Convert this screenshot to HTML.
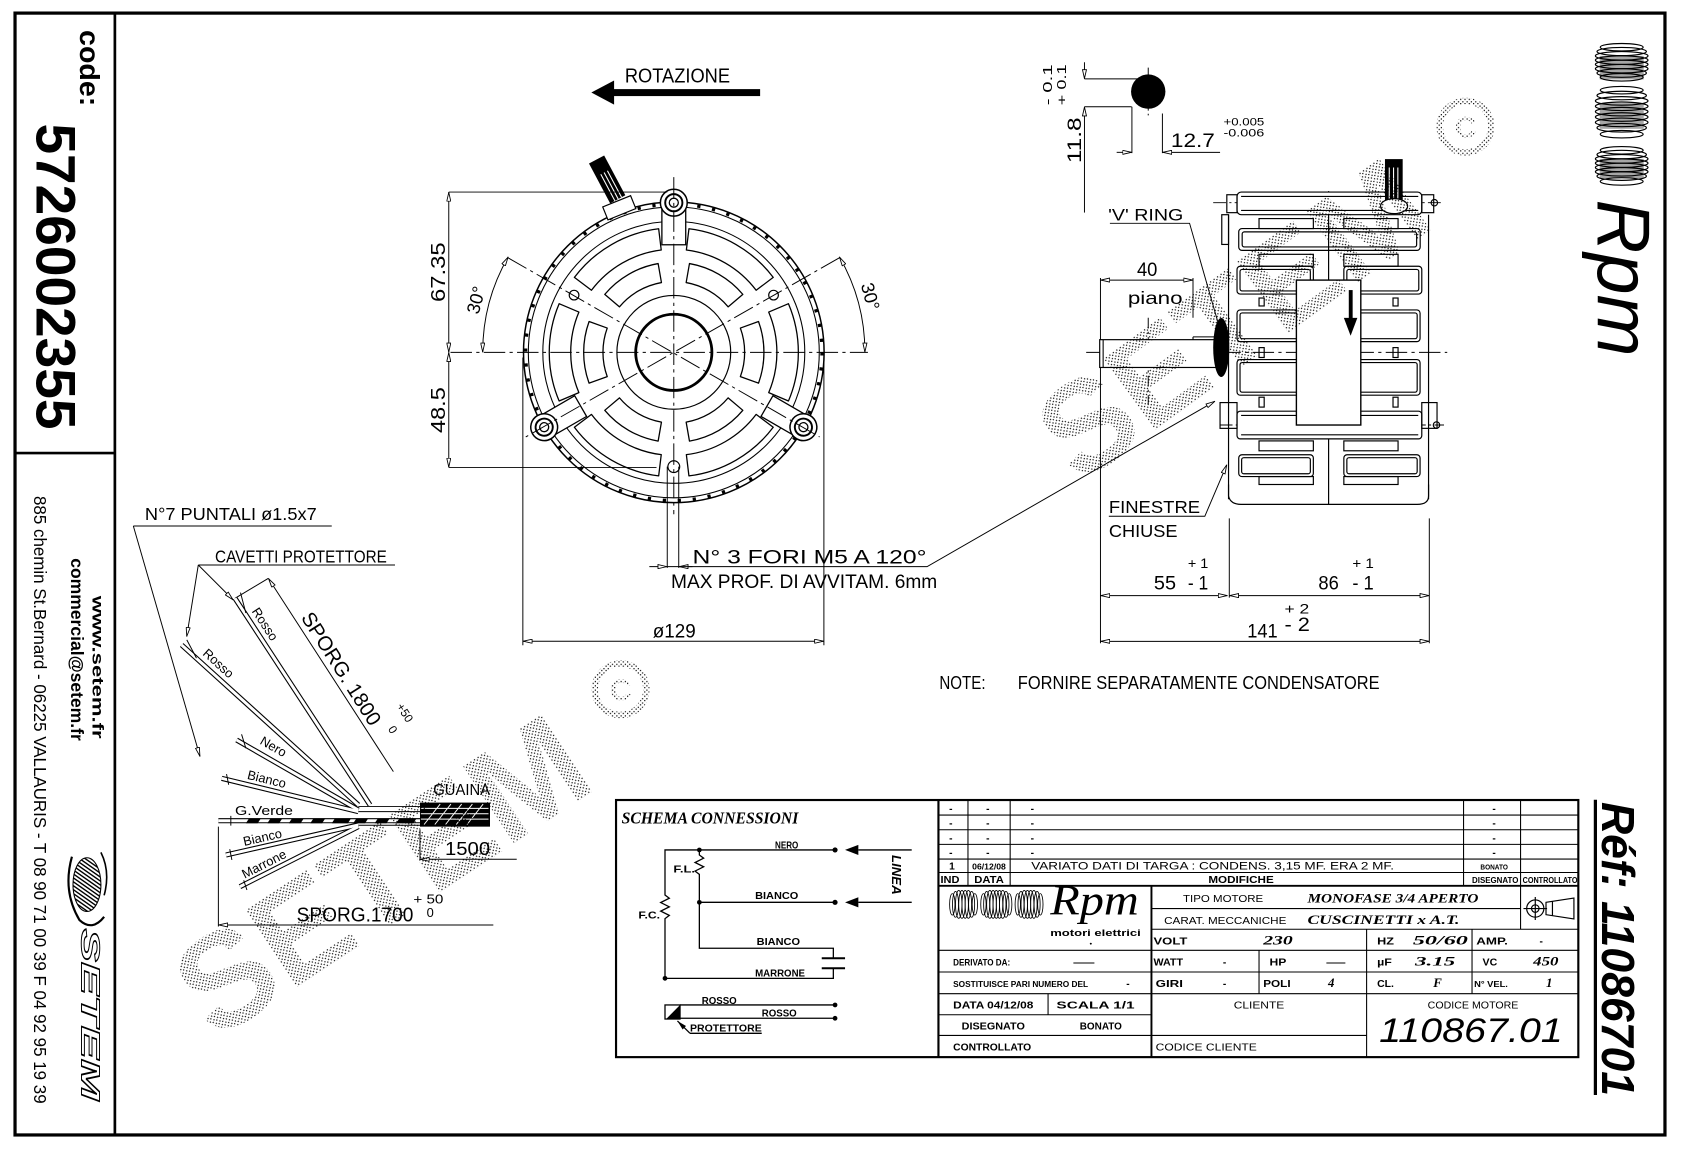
<!DOCTYPE html>
<html><head><meta charset="utf-8"><style>html,body{margin:0;padding:0;background:#fff;width:1683px;height:1153px;overflow:hidden}svg{display:block}</style></head>
<body>
<svg xmlns="http://www.w3.org/2000/svg" width="1683" height="1153" viewBox="0 0 1567.6 1074" preserveAspectRatio="none" font-family="'Liberation Sans', sans-serif">
<defs>
<marker id="o" viewBox="0 0 12 6" refX="12" refY="3" markerWidth="9" markerHeight="4.5" markerUnits="userSpaceOnUse" orient="auto-start-reverse"><path d="M0.5,0.5 L11.5,3 L0.5,5.5 Z" fill="#fff" stroke="#000" stroke-width="1.1"/></marker>
<marker id="f" viewBox="0 0 12 6" refX="12" refY="3" markerWidth="9" markerHeight="5" markerUnits="userSpaceOnUse" orient="auto-start-reverse"><path d="M0,0 L12,3 L0,6 Z" fill="#000"/></marker>
<pattern id="st" width="4" height="4" patternUnits="userSpaceOnUse"><rect width="1.1" height="1.1" fill="#000"/><rect x="2" y="2.3" width="1.1" height="1.1" fill="#000"/></pattern>
<pattern id="ht" width="3" height="3" patternUnits="userSpaceOnUse" patternTransform="rotate(35)"><rect width="3" height="1.3" fill="#000"/></pattern>
</defs>
<rect width="1567.6" height="1074" fill="#fff"/>

<!-- frame -->
<rect x="14" y="12.2" width="1536.8" height="1045" fill="none" stroke="#000" stroke-width="3"/>
<line x1="107" y1="12" x2="107" y2="1057" stroke="#000" stroke-width="2.5"/>
<line x1="14" y1="422" x2="107" y2="422" stroke="#000" stroke-width="2.5"/>

<!-- left strip -->
<text transform="translate(74.5,28) rotate(90)" font-size="26" font-weight="bold" textLength="71" lengthAdjust="spacingAndGlyphs">code:</text>
<text transform="translate(34,115) rotate(90)" font-size="52" font-weight="bold" textLength="285" lengthAdjust="spacingAndGlyphs">5726002355</text>
<text transform="translate(86,555) rotate(90)" font-size="15" font-weight="bold" textLength="133" lengthAdjust="spacingAndGlyphs">www.setem.fr</text>
<text transform="translate(66,520) rotate(90)" font-size="16" font-weight="bold" textLength="170" lengthAdjust="spacingAndGlyphs">commercial@setem.fr</text>
<text transform="translate(31.5,462) rotate(90)" font-size="16" textLength="566" lengthAdjust="spacingAndGlyphs">885 chemin St.Bernard - 06225 VALLAURIS - T 08 90 71 00 39  F 04 92 95 19 39</text>
<ellipse cx="81" cy="824" rx="13" ry="25" fill="url(#ht)" stroke="#000" stroke-width="1"/>
<path d="M67,798 Q58,830 74,857 Q86,868 97,854" fill="none" stroke="#000" stroke-width="2"/>
<path d="M94,794 Q103,812 97,834" fill="none" stroke="#000" stroke-width="1.5"/>
<text transform="translate(76,865) rotate(90)" font-size="24" font-weight="bold" font-style="italic" fill="#fff" stroke="#000" stroke-width="0.9" textLength="160" lengthAdjust="spacingAndGlyphs">SETEM</text>

<!-- right strip -->
<g fill="none" stroke="#000" stroke-width="1.1">
<ellipse cx="1510.5" cy="44" rx="20" ry="3.5"/><ellipse cx="1510.5" cy="48" rx="23" ry="3.8"/><ellipse cx="1510.5" cy="52" rx="24.5" ry="4"/><ellipse cx="1510.5" cy="56" rx="24.5" ry="4"/><ellipse cx="1510.5" cy="60" rx="24.5" ry="4"/><ellipse cx="1510.5" cy="64" rx="24.5" ry="4"/><ellipse cx="1510.5" cy="68" rx="23" ry="4"/><ellipse cx="1510.5" cy="72" rx="20" ry="3.5"/>
<ellipse cx="1510.5" cy="84" rx="20" ry="3.5"/><ellipse cx="1510.5" cy="89" rx="23" ry="4"/><ellipse cx="1510.5" cy="94" rx="24.5" ry="4"/><ellipse cx="1510.5" cy="99" rx="24.5" ry="4"/><ellipse cx="1510.5" cy="104" rx="24.5" ry="4"/><ellipse cx="1510.5" cy="109" rx="24.5" ry="4"/><ellipse cx="1510.5" cy="114" rx="24.5" ry="4"/><ellipse cx="1510.5" cy="119" rx="23" ry="4"/><ellipse cx="1510.5" cy="125" rx="20" ry="3.5"/>
<ellipse cx="1510.5" cy="140" rx="20" ry="3.5"/><ellipse cx="1510.5" cy="144" rx="23" ry="4"/><ellipse cx="1510.5" cy="148" rx="24.5" ry="4"/><ellipse cx="1510.5" cy="152" rx="24.5" ry="4"/><ellipse cx="1510.5" cy="156" rx="24.5" ry="4"/><ellipse cx="1510.5" cy="160" rx="24.5" ry="4"/><ellipse cx="1510.5" cy="164" rx="23" ry="4"/><ellipse cx="1510.5" cy="169" rx="20" ry="3.5"/>
</g>
<rect x="1490" y="52" width="41" height="22" fill="#000" opacity="0.35"/>
<rect x="1490" y="96" width="41" height="24" fill="#000" opacity="0.35"/>
<rect x="1490" y="148" width="41" height="18" fill="#000" opacity="0.35"/>
<text transform="translate(1488,186) rotate(90)" font-size="70" font-style="italic" textLength="146" lengthAdjust="spacingAndGlyphs">Rpm</text>
<line x1="1486" y1="745" x2="1486" y2="1020" stroke="#000" stroke-width="3"/>
<text transform="translate(1492,747) rotate(90)" font-size="43" font-weight="bold" font-style="italic" textLength="274" lengthAdjust="spacingAndGlyphs">Réf: 11086701</text>

<!-- FRONT VIEW -->
<text x="582" y="77" font-size="19" textLength="98" lengthAdjust="spacingAndGlyphs">ROTAZIONE</text>
<rect x="571" y="83" width="137" height="6.5" fill="#000"/>
<polygon points="550.8,86.2 572,75 572,97.5" fill="#000"/>

<g fill="none" stroke="#000">
<circle cx="627.6" cy="328.2" r="140" stroke-width="1.4"/>
<circle cx="627.6" cy="328.2" r="138" stroke-width="3" stroke-dasharray="3 11"/>
<circle cx="627.6" cy="328.2" r="135.5" stroke-width="1"/>
<circle cx="627.6" cy="328.2" r="122" stroke-width="1"/>
<circle cx="627.6" cy="328.2" r="53" stroke-width="1.1"/>
<circle cx="627.6" cy="328.2" r="35.5" stroke-width="2.6"/>
<g stroke-width="1.2" stroke-linejoin="round">
<path d="M720.2,258.4 A116,116 0 0 0 641.7,213.1 L639.3,232.9 A96,96 0 0 1 704.3,270.4 Z"/>
<path d="M613.5,213.1 A116,116 0 0 0 535.0,258.4 L550.9,270.4 A96,96 0 0 1 615.9,232.9 Z"/>
<path d="M520.8,282.9 A116,116 0 0 0 520.8,373.5 L539.2,365.7 A96,96 0 0 1 539.2,290.7 Z"/>
<path d="M535.0,398.0 A116,116 0 0 0 613.5,443.3 L615.9,423.5 A96,96 0 0 1 550.9,386.0 Z"/>
<path d="M641.7,443.3 A116,116 0 0 0 720.2,398.0 L704.3,386.0 A96,96 0 0 1 639.3,423.5 Z"/>
<path d="M734.4,373.5 A116,116 0 0 0 734.4,282.9 L716.0,290.7 A96,96 0 0 1 716.0,365.7 Z"/>
<path d="M691.9,274.2 A84,84 0 0 0 642.2,245.5 L639.1,263.2 A66,66 0 0 1 678.2,285.8 Z"/>
<path d="M613.0,245.5 A84,84 0 0 0 563.3,274.2 L577.0,285.8 A66,66 0 0 1 616.1,263.2 Z"/>
<path d="M548.7,299.5 A84,84 0 0 0 548.7,356.9 L565.6,350.8 A66,66 0 0 1 565.6,305.6 Z"/>
<path d="M563.3,382.2 A84,84 0 0 0 613.0,410.9 L616.1,393.2 A66,66 0 0 1 577.0,370.6 Z"/>
<path d="M642.2,410.9 A84,84 0 0 0 691.9,382.2 L678.2,370.6 A66,66 0 0 1 639.1,393.2 Z"/>
<path d="M706.5,356.9 A84,84 0 0 0 706.5,299.5 L689.6,305.6 A66,66 0 0 1 689.6,350.8 Z"/>
</g>
</g>
<g id="lug">
<rect x="616.5" y="189" width="22.2" height="39" fill="#fff" stroke="#000" stroke-width="1.2"/>
<circle cx="627.6" cy="188.8" r="12.5" fill="#fff" stroke="#000" stroke-width="1.4"/>
<circle cx="627.6" cy="188.8" r="8" fill="none" stroke="#000" stroke-width="1.8"/>
<circle cx="627.6" cy="188.8" r="4.2" fill="none" stroke="#000" stroke-width="1.2"/>
</g>
<use href="#lug" transform="rotate(120 627.6 328.2)"/>
<use href="#lug" transform="rotate(240 627.6 328.2)"/>
<g fill="#fff" stroke="#000" stroke-width="1.1">
<circle cx="627.6" cy="434.7" r="5.5"/>
<circle cx="534.7" cy="274.9" r="4.5"/>
<circle cx="720.5" cy="274.9" r="4.5"/>
</g>
<!-- cable -->
<g transform="rotate(-28 566 168)"><rect x="558" y="146" width="16" height="42" fill="#000"/><line x1="563" y1="160" x2="563" y2="188" stroke="#fff" stroke-width="1"/><line x1="566.5" y1="160" x2="566.5" y2="188" stroke="#fff" stroke-width="1"/><line x1="570" y1="160" x2="570" y2="188" stroke="#fff" stroke-width="1"/></g>
<g transform="rotate(-22 577 194)"><rect x="563" y="187" width="28" height="13" fill="#fff" stroke="#000" stroke-width="1.1"/></g>

<g fill="none" stroke="#000" stroke-width="0.9">
<path d="M419.6,328.2 H808.4" stroke-dasharray="20 4 3 4"/>
<path d="M627.6,165 V479" stroke-dasharray="20 4 3 4"/>
<path d="M473,240 L763.4,407" stroke-dasharray="20 4 3 4"/>
<path d="M782,240 L489.7,407" stroke-dasharray="20 4 3 4"/>
<path d="M473.4,239.2 A178,178 0 0 0 449.6,328.2" marker-start="url(#o)" marker-end="url(#o)"/>
<path d="M781.8,239.2 A178,178 0 0 1 805.6,328.2" marker-start="url(#o)" marker-end="url(#o)"/>
<path d="M418,178.9 H621.5 M418,435.4 H611.5"/>
<path d="M418,178.9 V328.2" marker-start="url(#o)" marker-end="url(#o)"/>
<path d="M418,328.2 V435.4" marker-start="url(#o)" marker-end="url(#o)"/>
<path d="M487,333 V601 M767.4,333 V601"/>
<path d="M487,597.3 H767.4" marker-start="url(#o)" marker-end="url(#o)"/>
<path d="M621.5,434.7 V529 M632.2,434.7 V529"/>
<path d="M604.8,527.8 H621.5" marker-end="url(#o)"/>
<path d="M645,527.8 H632.2" marker-end="url(#o)"/>
<path d="M621.5,527.8 H863.5 L1131.7,373.7" marker-end="url(#o)"/>
</g>
<text transform="translate(414.6,281.3) rotate(-90)" font-size="19" textLength="55.5" lengthAdjust="spacingAndGlyphs">67.35</text>
<text transform="translate(414.6,403.3) rotate(-90)" font-size="19" textLength="42.6" lengthAdjust="spacingAndGlyphs">48.5</text>
<text transform="translate(449,281) rotate(-75)" font-size="17" text-anchor="middle">30°</text>
<text transform="translate(805,277.6) rotate(75)" font-size="17" text-anchor="middle">30°</text>
<text x="608" y="593.7" font-size="18" textLength="40" lengthAdjust="spacingAndGlyphs">ø129</text>
<text x="645" y="525" font-size="18" textLength="218" lengthAdjust="spacingAndGlyphs">N° 3 FORI  M5 A 120°</text>
<text x="625" y="547.6" font-size="18" textLength="248" lengthAdjust="spacingAndGlyphs">MAX PROF. DI AVVITAM. 6mm</text>

<!-- SIDE VIEW -->
<g fill="none" stroke="#000" stroke-width="0.9">
<path d="M1069.5,63 V107.5" stroke-dasharray="8 3 2 3"/>
<path d="M1010.1,73.5 H1067 M1010.1,99.4 H1054"/>
<path d="M1010.1,58 V73.5" marker-end="url(#o)"/>
<path d="M1010.1,198 V99.4" marker-end="url(#o)"/>
<path d="M1054.3,99.4 V142.6 M1082.7,105.7 V142.6"/>
<path d="M1040.1,141.9 H1054.3" marker-end="url(#o)"/>
<path d="M1136.4,141.9 H1082.7" marker-end="url(#o)"/>
<path d="M1033.8,208 H1108 L1136.4,307.1"/>
<path d="M1025,260.9 H1111.2" marker-start="url(#o)" marker-end="url(#o)"/>
<path d="M1111.2,259 V296 M1025,259 V599.2"/>
<path d="M1069.5,296 V377.4" stroke-dasharray="10 3 2 3"/>
<path d="M1011.7,328.2 H1348" stroke-dasharray="20 4 3 4"/>
<path d="M1130,188.8 H1342 M1136,395.9 H1345" stroke-dasharray="12 3 2 3"/>
<path d="M1145,482.8 V556.7 M1331.3,482.8 V599.2"/>
<path d="M1025,554.8 H1143.4" marker-start="url(#o)" marker-end="url(#o)"/>
<path d="M1145,554.8 H1331.3" marker-start="url(#o)" marker-end="url(#o)"/>
<path d="M1025,597.4 H1331.3" marker-start="url(#o)" marker-end="url(#o)"/>
<path d="M1032.8,480.9 H1122.2 L1142.7,432.8" marker-end="url(#o)"/>
</g>
<circle cx="1069.5" cy="85.3" r="16" fill="#000"/>
<rect x="1024.3" y="316.4" width="108.8" height="25.9" fill="#fff" stroke="#000" stroke-width="1.1"/>
<path d="M1027.5,316.4 V342.3 M1111.2,313.8 V316.4 M1111.2,313.8 H1133" fill="none" stroke="#000" stroke-width="1"/>
<g fill="none" stroke="#000" stroke-width="1.1">
<path d="M1144.3,200 V465 M1330.6,200 V465 M1237.5,178 V470"/>
<rect x="1152.2" y="178.9" width="172.1" height="21.1" rx="4" fill="#fff"/>
<path d="M1156,183 H1321 M1156,196 H1321"/>
<rect x="1142.7" y="181.4" width="9.5" height="16.7"/><rect x="1324.3" y="181.4" width="11.1" height="16.7"/>
<rect x="1138" y="200" width="6.3" height="27.7"/>
<rect x="1172.7" y="203.6" width="50.6" height="9.3"/><rect x="1251.7" y="203.6" width="50.5" height="9.3"/>
<rect x="1153.8" y="212.9" width="169" height="20.3" rx="3"/><rect x="1157" y="216" width="162.5" height="14" rx="2"/>
<rect x="1172.7" y="236.9" width="50.6" height="11.1"/><rect x="1251.7" y="236.9" width="50.5" height="11.1"/>
<rect x="1152.2" y="248" width="71.1" height="25.9" rx="3"/><rect x="1251.7" y="248" width="72.6" height="25.9" rx="3"/>
<rect x="1155" y="251" width="65.5" height="20" rx="2"/><rect x="1254.5" y="251" width="67" height="20" rx="2"/>
<rect x="1172.7" y="277.6" width="4.8" height="7.4"/><rect x="1297.5" y="277.6" width="4.7" height="7.4"/>
<rect x="1152.2" y="288.7" width="71.1" height="29.5" rx="3"/><rect x="1251.7" y="288.7" width="71" height="29.5" rx="3"/>
<rect x="1155" y="291.5" width="65.5" height="24" rx="2"/><rect x="1254.5" y="291.5" width="65.5" height="24" rx="2"/>
<rect x="1172.7" y="323.8" width="4.8" height="9.2"/><rect x="1297.5" y="323.8" width="4.7" height="9.2"/>
<rect x="1152.2" y="334.9" width="71.1" height="33.2" rx="3"/><rect x="1251.7" y="334.9" width="71" height="33.2" rx="3"/>
<rect x="1155" y="337.7" width="65.5" height="27.6" rx="2"/><rect x="1254.5" y="337.7" width="65.5" height="27.6" rx="2"/>
<rect x="1172.7" y="370" width="4.8" height="9.2"/><rect x="1297.5" y="370" width="4.7" height="9.2"/>
<rect x="1152.2" y="383" width="172.1" height="25.8" rx="3" fill="#fff"/>
<path d="M1156,387 H1321 M1156,405 H1321"/>
<rect x="1136.4" y="375" width="15.8" height="24"/><rect x="1324.3" y="375" width="14.2" height="24"/>
<rect x="1172.7" y="410.7" width="50.6" height="9.2"/><rect x="1251.7" y="410.7" width="50.5" height="9.2"/>
<rect x="1153.8" y="423.6" width="69.5" height="20.3" rx="3"/><rect x="1251.7" y="423.6" width="71" height="20.3" rx="3"/>
<rect x="1156.5" y="426.3" width="64" height="15" rx="2"/><rect x="1254.5" y="426.3" width="65.5" height="15" rx="2"/>
<rect x="1172.7" y="443.9" width="50.6" height="7.4"/><rect x="1251.7" y="443.9" width="50.5" height="7.4"/>
<path d="M1144.3,451.3 V462 Q1146,469.8 1156,469.8 H1320 Q1330.6,469.8 1330.6,462 V451.3"/>
<circle cx="1336" cy="188.8" r="3"/><circle cx="1338" cy="395.9" r="3"/>
</g>
<rect x="1207.5" y="260.9" width="60" height="135" fill="#fff" stroke="#000" stroke-width="1.3"/>
<rect x="1256.3" y="270.2" width="3.6" height="27" fill="#000"/>
<polygon points="1251.7,296.1 1264.3,296.1 1258,312.7" fill="#000"/>
<ellipse cx="1137.5" cy="323.7" rx="7.5" ry="27.5" fill="#000"/>
<rect x="1290" y="148.2" width="16.5" height="40" fill="#000"/>
<path d="M1294,156 V188 M1298,156 V188 M1302,156 V188" stroke="#fff" stroke-width="1"/>
<ellipse cx="1298.5" cy="192" rx="12.6" ry="7" fill="#fff" stroke="#000" stroke-width="1.1"/>

<g font-size="18">
<text transform="translate(980,98) rotate(-90)" font-size="12" textLength="38" lengthAdjust="spacingAndGlyphs">- 0.1</text>
<text transform="translate(992.7,98) rotate(-90)" font-size="12" textLength="38" lengthAdjust="spacingAndGlyphs">+ 0.1</text>
<text transform="translate(1007,151.9) rotate(-90)" textLength="42.5" lengthAdjust="spacingAndGlyphs">11.8</text>
<text x="1090.6" y="137" textLength="41" lengthAdjust="spacingAndGlyphs">12.7</text>
<text x="1139.6" y="116.7" font-size="10" textLength="38" lengthAdjust="spacingAndGlyphs">+0.005</text>
<text x="1139.6" y="127.1" font-size="10" textLength="38" lengthAdjust="spacingAndGlyphs">-0.006</text>
<text x="1032.2" y="205.5" font-size="15.5" textLength="70" lengthAdjust="spacingAndGlyphs">'V' RING</text>
<text x="1059" y="257" textLength="19" lengthAdjust="spacingAndGlyphs">40</text>
<text x="1050.5" y="283" font-size="16" textLength="51" lengthAdjust="spacingAndGlyphs">piano</text>
<text x="1032.8" y="478" font-size="16.5" textLength="85" lengthAdjust="spacingAndGlyphs">FINESTRE</text>
<text x="1032.8" y="500" font-size="16.5" textLength="64" lengthAdjust="spacingAndGlyphs">CHIUSE</text>
<text x="1106.4" y="529" font-size="13" textLength="19" lengthAdjust="spacingAndGlyphs">+ 1</text>
<text x="1074.8" y="549.3" textLength="20.6" lengthAdjust="spacingAndGlyphs">55</text>
<text x="1106.4" y="549.3" textLength="19" lengthAdjust="spacingAndGlyphs">- 1</text>
<text x="1259.6" y="529" font-size="13" textLength="20" lengthAdjust="spacingAndGlyphs">+ 1</text>
<text x="1228" y="549.3" textLength="19" lengthAdjust="spacingAndGlyphs">86</text>
<text x="1259.6" y="549.3" textLength="20" lengthAdjust="spacingAndGlyphs">- 1</text>
<text x="1196.4" y="571.5" font-size="13" textLength="23" lengthAdjust="spacingAndGlyphs">+ 2</text>
<text x="1161.7" y="593.7" textLength="28.4" lengthAdjust="spacingAndGlyphs">141</text>
<text x="1196.4" y="588" textLength="23.7" lengthAdjust="spacingAndGlyphs">- 2</text>
<text x="875" y="642" font-size="17" textLength="43" lengthAdjust="spacingAndGlyphs">NOTE:</text>
<text x="948" y="642" font-size="17" textLength="337" lengthAdjust="spacingAndGlyphs">FORNIRE SEPARATAMENTE CONDENSATORE</text>
</g>

<!-- WIRES -->
<g font-size="16.5">
<text x="135" y="484.4" textLength="160" lengthAdjust="spacingAndGlyphs">N°7 PUNTALI ø1.5x7</text>
<text x="200.3" y="524.1" textLength="160" lengthAdjust="spacingAndGlyphs">CAVETTI PROTETTORE</text>
<text x="403.6" y="740.5" font-size="15" textLength="52.8" lengthAdjust="spacingAndGlyphs">GUAINA</text>
<text x="414.5" y="796.4" font-size="17" textLength="42" lengthAdjust="spacingAndGlyphs">1500</text>
<text x="276.3" y="858.5" font-size="19" textLength="108.7" lengthAdjust="spacingAndGlyphs">SPORG.1700</text>
<text x="385" y="841.4" font-size="12" textLength="28" lengthAdjust="spacingAndGlyphs">+ 50</text>
<text x="397.4" y="854" font-size="12">0</text>
<text transform="translate(279.9,575.3) rotate(57.5)" font-size="19" textLength="121" lengthAdjust="spacingAndGlyphs">SPORG. 1800</text>
<text transform="translate(369,658) rotate(57.5)" font-size="11">+50</text>
<text transform="translate(361,679) rotate(57.5)" font-size="11">0</text>
</g>
<g fill="none" stroke="#000" stroke-width="0.9">
<path d="M124.2,490 H309"/>
<path d="M124.2,490 L186.3,704.8" marker-end="url(#o)"/>
<path d="M184.7,526.3 H367.9"/>
<path d="M184.7,526.3 L173.9,593" marker-end="url(#o)"/>
<path d="M184.7,526.3 L217.3,558.9" marker-end="url(#o)"/>
<path d="M218.9,557.3 L250,538.7"/>
<path d="M366.4,718.8 L250,538.7" marker-end="url(#o)"/>
<path d="M391.2,773 V801 M203.4,770 V863"/>
<path d="M481.3,800.4 H391.2" marker-end="url(#o)"/>
<path d="M459.5,861.6 H203.4" marker-end="url(#o)"/>
</g>
<g fill="none" stroke-linecap="butt">
<g stroke="#000" stroke-width="4.8">
<path d="M218.9,557.3 L344.6,749.8"/><path d="M169.2,600.8 L333.8,749.8"/><path d="M220.4,689.3 L333.8,754.5"/><path d="M206.5,725 L333.8,756"/><path d="M210.5,796.4 L333.8,768.4"/><path d="M223.5,825.9 L333.8,770"/><path d="M203.4,764.5 H391.2"/>
</g>
<g stroke="#fff" stroke-width="2.8">
<path d="M218.9,557.3 L344.6,749.8"/><path d="M169.2,600.8 L333.8,749.8"/><path d="M220.4,689.3 L333.8,754.5"/><path d="M206.5,725 L333.8,756"/><path d="M210.5,796.4 L333.8,768.4"/><path d="M223.5,825.9 L333.8,770"/><path d="M203.4,764.5 H391.2"/>
</g>
</g>
<g stroke="#000" stroke-width="0.9" fill="none">
<path d="M224,552 L229,571 M174,596 L183,613 M225,684 L229,697 M211,721 L213,731 M214,791 L216,801 M227,820 L230,829 M215,760 V769"/>
<path d="M333.8,751.3 H391.2 M333.8,756 H391.2 M333.8,768.7 H391.2"/>
</g>
<g fill="#000">
<polygon points="232,762.3 243,762.3 240,766.8 229,766.8"/><polygon points="252,762.3 263,762.3 260,766.8 249,766.8"/><polygon points="272,762.3 283,762.3 280,766.8 269,766.8"/><polygon points="292,762.3 303,762.3 300,766.8 289,766.8"/><polygon points="312,762.3 327,762.3 324,766.8 309,766.8"/><polygon points="332,762.3 343,762.3 340,766.8 329,766.8"/><polygon points="352,762.3 363,762.3 360,766.8 349,766.8"/><polygon points="372,762.3 388,762.3 385,766.8 369,766.8"/>
</g>
<rect x="391.2" y="747.6" width="65.2" height="22.4" fill="#000"/>
<path d="M395,768 L410,749 M405,768 L420,749 M415,768 L430,749 M425,768 L440,749 M435,768 L450,749 M392,753 H455 M392,758 H455 M392,763 H455" stroke="#fff" stroke-width="0.9"/>
<g font-size="12">
<text transform="translate(243.4,583.6) rotate(56.9)" text-anchor="middle">Rosso</text>
<text transform="translate(200.7,620.9) rotate(42.2)" text-anchor="middle">Rosso</text>
<text transform="translate(252.6,699) rotate(29.9)" text-anchor="middle">Nero</text>
<text transform="translate(247.5,729.7) rotate(13.7)" text-anchor="middle">Bianco</text>
<text x="218.9" y="759.1" textLength="54" lengthAdjust="spacingAndGlyphs">G.Verde</text>
<text transform="translate(245.4,784) rotate(-12.8)" text-anchor="middle">Bianco</text>
<text transform="translate(247.8,808.4) rotate(-26.9)" text-anchor="middle">Marrone</text>
</g>

<!-- TABLE -->
<rect x="573.8" y="745.2" width="896.3" height="239.5" fill="none" stroke="#000" stroke-width="2"/>
<line x1="874.1" y1="745.2" x2="874.1" y2="984.7" stroke="#000" stroke-width="2"/>
<g stroke="#000" stroke-width="1">
<path d="M874.1,759.2 H1470.1 M874.1,772.9 H1470.1 M874.1,786.5 H1470.1 M874.1,800.2 H1470.1 M874.1,812.7 H1470.1"/>
<path d="M901.6,745.2 V825.1 M940.9,745.2 V825.1 M1363.2,745.2 V825.1 M1416.3,745.2 V825.1"/>
<path d="M1072.5,846.3 H1416.3 M1416.3,825.1 V865.6"/>
<path d="M1072.5,865.6 H1470.1 M874.1,885.2 H1470.1 M874.1,905.4 H1470.1 M874.1,925.6 H1470.1"/>
<path d="M874.1,945.2 H1072.5 M874.1,964.5 H1272.9"/>
<path d="M1272.9,865.6 V984.7 M1371.1,865.6 V925.6 M1172.7,885.2 V925.6 M976.2,925.6 V945.2"/>
</g>
<g stroke="#000" stroke-width="1.8"><path d="M874.1,825.1 H1470.1 M1072.5,825.1 V984.7"/></g>

<!-- schema -->
<text x="579" y="766.9" font-family="'Liberation Serif', serif" font-size="16" font-weight="bold" font-style="italic" textLength="164.6" lengthAdjust="spacingAndGlyphs">SCHEMA CONNESSIONI</text>
<g fill="none" stroke="#000" stroke-width="1.2">
<path d="M777.8,791.7 H619.4 V833.7 l4,3 l-8,4 l8,4 l-8,4 l8,4 l-4,3 V911.3 H776.2 V901.9"/>
<path d="M651.4,791.7 V796.4 l4,3 l-8,4 l8,4 l-8,4 l4,3 V883.3 H776.2 V892.6"/>
<path d="M651.4,840.5 H777.8"/>
<path d="M765.4,892.6 H787.1 M765.4,901.9 H787.1" stroke-width="1.8"/>
<path d="M799.5,791.7 H849.2 M799.5,840.5 H849.2"/>
<path d="M633.4,936.1 H777.8 M633.4,948.5 H777.8"/>
<rect x="619.4" y="936.1" width="14" height="13.1"/>
<path d="M642.7,962.5 H709.5"/>
<path d="M642.7,962.5 L631,951" marker-end="url(#f)"/>
</g>
<polygon points="633.4,936.1 633.4,949.2 620.5,949.2" fill="#000"/>
<g fill="#000">
<circle cx="651.4" cy="791.7" r="2.2"/><circle cx="651.4" cy="840.5" r="2.2"/><circle cx="619.4" cy="911.3" r="2.2"/>
<circle cx="777.8" cy="791.7" r="2.4"/><circle cx="777.8" cy="840.5" r="2.4"/><circle cx="777.8" cy="936.1" r="2.2"/><circle cx="777.8" cy="948.5" r="2.2"/>
<polygon points="787.1,791.7 799.5,787 799.5,796.4"/><polygon points="787.1,840.5 799.5,835.8 799.5,845.2"/>
</g>
<g font-size="9" font-weight="bold">
<text x="721.9" y="790.2" textLength="21.7" lengthAdjust="spacingAndGlyphs">NERO</text>
<text x="703.3" y="837.4" textLength="40.3" lengthAdjust="spacingAndGlyphs">BIANCO</text>
<text x="704.8" y="880.2" textLength="40.4" lengthAdjust="spacingAndGlyphs">BIANCO</text>
<text x="703.3" y="909.7" textLength="46.5" lengthAdjust="spacingAndGlyphs">MARRONE</text>
<text x="627.2" y="812.5" textLength="20.2" lengthAdjust="spacingAndGlyphs">F.L.</text>
<text x="594.6" y="855.4" textLength="20.2" lengthAdjust="spacingAndGlyphs">F.C.</text>
<text x="653.6" y="935" textLength="32.6" lengthAdjust="spacingAndGlyphs">ROSSO</text>
<text x="709.5" y="947" textLength="32.6" lengthAdjust="spacingAndGlyphs">ROSSO</text>
<text x="642.7" y="961" textLength="66.8" lengthAdjust="spacingAndGlyphs">PROTETTORE</text>
<text transform="translate(831,796.4) rotate(90)" font-size="12" font-style="italic" textLength="37" lengthAdjust="spacingAndGlyphs">LINEA</text>
</g>

<!-- table text -->
<g font-size="9.5" font-weight="bold">
<text x="884" y="756.5">-</text><text x="918.5" y="756.5">-</text><text x="960" y="756.5">-</text><text x="1390" y="756.5">-</text>
<text x="884" y="770">-</text><text x="918.5" y="770">-</text><text x="960" y="770">-</text><text x="1390" y="770">-</text>
<text x="884" y="783.7">-</text><text x="918.5" y="783.7">-</text><text x="960" y="783.7">-</text><text x="1390" y="783.7">-</text>
<text x="884" y="797.3">-</text><text x="918.5" y="797.3">-</text><text x="960" y="797.3">-</text><text x="1390" y="797.3">-</text>
<text x="884" y="810">1</text>
<text x="905.5" y="810" font-size="8" textLength="31.4" lengthAdjust="spacingAndGlyphs">06/12/08</text>
<text x="960.5" y="810" font-weight="normal" font-size="10.5" textLength="337.9" lengthAdjust="spacingAndGlyphs">VARIATO DATI DI TARGA : CONDENS. 3,15 MF. ERA 2 MF.</text>
<text x="1378.9" y="810" font-size="7" textLength="25.6" lengthAdjust="spacingAndGlyphs">BONATO</text>
<text x="876" y="822.7" textLength="17.7" lengthAdjust="spacingAndGlyphs">IND</text>
<text x="907.5" y="822.7" textLength="27.5" lengthAdjust="spacingAndGlyphs">DATA</text>
<text x="1125.5" y="822.7" textLength="60.9" lengthAdjust="spacingAndGlyphs">MODIFICHE</text>
<text x="1371.1" y="822.7" font-size="8" textLength="43.2" lengthAdjust="spacingAndGlyphs">DISEGNATO</text>
<text x="1418.2" y="822.7" font-size="8" textLength="51.1" lengthAdjust="spacingAndGlyphs">CONTROLLATO</text>
<text x="978.2" y="872" font-size="8.5" textLength="84.4" lengthAdjust="spacingAndGlyphs">motori elettrici</text>
<text x="1101.9" y="840" font-weight="normal" textLength="74.7" lengthAdjust="spacingAndGlyphs">TIPO MOTORE</text>
<text x="1084.3" y="860.5" font-weight="normal" textLength="113.9" lengthAdjust="spacingAndGlyphs">CARAT. MECCANICHE</text>
<text x="1074.4" y="880" textLength="31.5" lengthAdjust="spacingAndGlyphs">VOLT</text>
<text x="1282.7" y="880" textLength="15.7" lengthAdjust="spacingAndGlyphs">HZ</text>
<text x="1375" y="880" textLength="29.5" lengthAdjust="spacingAndGlyphs">AMP.</text>
<text x="1434" y="880">-</text>
<text x="887.8" y="899.5" font-size="8.5" textLength="53.1" lengthAdjust="spacingAndGlyphs">DERIVATO DA:</text>
<text x="999.8" y="899.5" textLength="19.6" lengthAdjust="spacingAndGlyphs">—</text>
<text x="1074.4" y="899.5" textLength="27.5" lengthAdjust="spacingAndGlyphs">WATT</text>
<text x="1139" y="899.5">-</text>
<text x="1182.5" y="899.5" textLength="15.7" lengthAdjust="spacingAndGlyphs">HP</text>
<text x="1235.5" y="899.5" textLength="17.7" lengthAdjust="spacingAndGlyphs">—</text>
<text x="1282.7" y="899.5" textLength="13.7" lengthAdjust="spacingAndGlyphs">µF</text>
<text x="1380.9" y="899.5" textLength="13.7" lengthAdjust="spacingAndGlyphs">VC</text>
<text x="887.8" y="919.5" font-size="8" textLength="125.7" lengthAdjust="spacingAndGlyphs">SOSTITUISCE PARI NUMERO DEL</text>
<text x="1049" y="919.5">-</text>
<text x="1076.4" y="919.5" textLength="25.5" lengthAdjust="spacingAndGlyphs">GIRI</text>
<text x="1139" y="919.5">-</text>
<text x="1176.6" y="919.5" textLength="25.5" lengthAdjust="spacingAndGlyphs">POLI</text>
<text x="1282.7" y="919.5" textLength="15.7" lengthAdjust="spacingAndGlyphs">CL.</text>
<text x="1373" y="919.5" font-size="8" textLength="31.5" lengthAdjust="spacingAndGlyphs">N° VEL.</text>
<text x="887.8" y="939.5" textLength="74.7" lengthAdjust="spacingAndGlyphs">DATA  04/12/08</text>
<text x="984" y="939.5" textLength="72.8" lengthAdjust="spacingAndGlyphs">SCALA    1/1</text>
<text x="895.7" y="959" textLength="58.9" lengthAdjust="spacingAndGlyphs">DISEGNATO</text>
<text x="1005.7" y="959" textLength="39.3" lengthAdjust="spacingAndGlyphs">BONATO</text>
<text x="887.8" y="978.5" textLength="72.7" lengthAdjust="spacingAndGlyphs">CONTROLLATO</text>
<text x="1149.1" y="939.5" font-weight="normal" textLength="47.1" lengthAdjust="spacingAndGlyphs">CLIENTE</text>
<text x="1076.4" y="978.5" font-weight="normal" textLength="94.3" lengthAdjust="spacingAndGlyphs">CODICE CLIENTE</text>
<text x="1329.8" y="939.5" font-weight="normal" textLength="84.5" lengthAdjust="spacingAndGlyphs">CODICE MOTORE</text>
</g>
<g font-family="'Liberation Serif', serif" font-weight="bold" font-style="italic" font-size="12">
<text x="1217.8" y="840.5" textLength="159.2" lengthAdjust="spacingAndGlyphs">MONOFASE 3/4 APERTO</text>
<text x="1217.8" y="860.5" textLength="141.5" lengthAdjust="spacingAndGlyphs">CUSCINETTI x A.T.</text>
<text x="1176.6" y="880" textLength="27.5" lengthAdjust="spacingAndGlyphs">230</text>
<text x="1316" y="880" textLength="51.2" lengthAdjust="spacingAndGlyphs">50/60</text>
<text x="1318" y="899.5" textLength="37.4" lengthAdjust="spacingAndGlyphs">3.15</text>
<text x="1428" y="899.5" textLength="23.6" lengthAdjust="spacingAndGlyphs">450</text>
<text x="1237" y="919.5">4</text>
<text x="1335" y="919.5">F</text>
<text x="1440" y="919.5">1</text>
</g>
<text x="978.2" y="852" font-family="'Liberation Serif', serif" font-style="italic" font-size="40" textLength="82.5" lengthAdjust="spacingAndGlyphs">Rpm</text>
<text x="1284.6" y="970.7" font-size="32" font-style="italic" textLength="171" lengthAdjust="spacingAndGlyphs">110867.01</text>
<circle cx="1016" cy="879" r="0.9" fill="#000"/>
<!-- table coil logo -->
<g fill="none" stroke="#000" stroke-width="0.8">
<ellipse cx="887" cy="842.4" rx="2.5" ry="10"/><ellipse cx="890" cy="842.4" rx="2.8" ry="12"/><ellipse cx="893" cy="842.4" rx="3" ry="13"/><ellipse cx="896" cy="842.4" rx="3" ry="13"/><ellipse cx="899" cy="842.4" rx="3" ry="13"/><ellipse cx="902" cy="842.4" rx="3" ry="13"/><ellipse cx="905" cy="842.4" rx="2.8" ry="12"/><ellipse cx="908" cy="842.4" rx="2.5" ry="10"/>
<ellipse cx="916" cy="842.4" rx="2.5" ry="10"/><ellipse cx="919" cy="842.4" rx="2.8" ry="12"/><ellipse cx="922" cy="842.4" rx="3" ry="13"/><ellipse cx="925" cy="842.4" rx="3" ry="13"/><ellipse cx="928" cy="842.4" rx="3" ry="13"/><ellipse cx="931" cy="842.4" rx="3" ry="13"/><ellipse cx="934" cy="842.4" rx="3" ry="13"/><ellipse cx="937" cy="842.4" rx="2.8" ry="12"/><ellipse cx="940" cy="842.4" rx="2.5" ry="10"/>
<ellipse cx="948" cy="842.4" rx="2.5" ry="10"/><ellipse cx="951" cy="842.4" rx="2.8" ry="12"/><ellipse cx="954" cy="842.4" rx="3" ry="13"/><ellipse cx="957" cy="842.4" rx="3" ry="13"/><ellipse cx="960" cy="842.4" rx="3" ry="13"/><ellipse cx="963" cy="842.4" rx="3" ry="13"/><ellipse cx="966" cy="842.4" rx="2.8" ry="12"/><ellipse cx="969" cy="842.4" rx="2.5" ry="10"/>
</g>
<!-- symbol -->
<g fill="none" stroke="#000" stroke-width="1.1">
<circle cx="1430" cy="846.3" r="8"/><circle cx="1430" cy="846.3" r="3.5"/>
<path d="M1419,846.3 H1441 M1430,835.5 V857"/>
<polygon points="1440,840.5 1466,836.5 1466,856 1440,852"/>
<path d="M1446,839.5 V853"/>
</g>

<!-- WATERMARKS -->
<text transform="translate(1005,452) rotate(-36)" font-size="120" font-weight="bold" fill="url(#st)" textLength="413" lengthAdjust="spacingAndGlyphs">SETEM</text>
<text transform="translate(200,970) rotate(-33.5)" font-size="125" font-weight="bold" fill="url(#st)" textLength="430" lengthAdjust="spacingAndGlyphs">SETEM</text>
<circle cx="1365" cy="118" r="24" fill="none" stroke="url(#st)" stroke-width="6"/>
<text x="1365" y="128" font-size="28" font-weight="bold" text-anchor="middle" fill="url(#st)">C</text>
<circle cx="578" cy="642" r="24" fill="none" stroke="url(#st)" stroke-width="6"/>
<text x="578" y="652" font-size="28" font-weight="bold" text-anchor="middle" fill="url(#st)">C</text>
</svg>
</body></html>
